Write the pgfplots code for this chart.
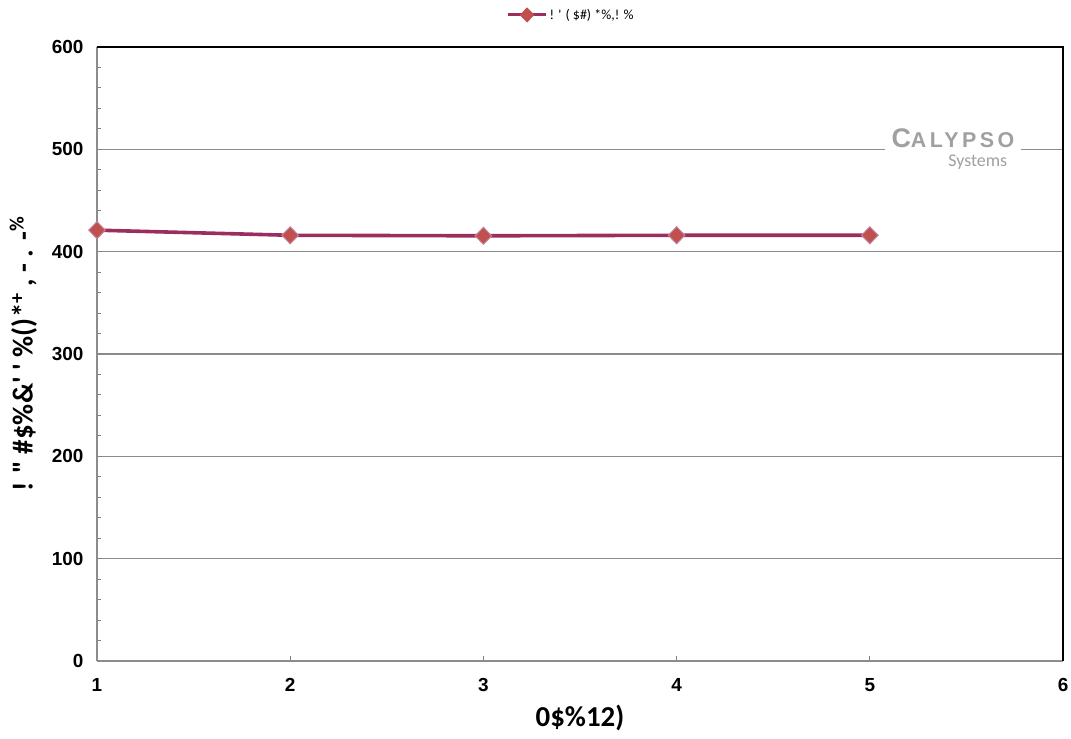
\documentclass[border=0pt]{standalone}
\usepackage{pgfplots}
\pgfplotsset{compat=1.18}
\usepackage{fontspec}
\setmainfont{Liberation Sans}
\newfontfamily\carl{Carlito}
\newfontfamily\logofont[LetterSpace=16]{Liberation Sans}
\definecolor{linec}{HTML}{9B2D5F}
\definecolor{markc}{HTML}{C0504D}
\definecolor{gridc}{HTML}{8C8C8C}
\definecolor{axisc}{HTML}{808080}
\definecolor{logoc}{HTML}{A0A0A0}
\begin{document}
\begin{tikzpicture}[x=1bp,y=1bp]
\useasboundingbox (-97,-78) rectangle (974,661);
\begin{axis}[
  at={(0,0)}, anchor=south west,
  scale only axis, width=966bp, height=614bp,
  xmin=1, xmax=6, ymin=0, ymax=600,
  xtick={1,2,3,4,5,6},
  ytick={0,100,200,300,400,500,600},
  minor y tick num=4,
  ymajorgrids, major grid style={gridc, line width=1.3pt},
  axis line style={draw=none},
  tick style={axisc, line width=1pt},
  major tick length=5bp, minor tick length=4bp,
  tick align=inside,
  xtick pos=bottom, ytick pos=left,
  /pgf/number format/assume math mode=true,
  ticklabel style={font=\fontsize{19}{22}\selectfont\bfseries},
  xticklabel style={yshift=-14bp},
  yticklabel style={xshift=-10bp},
  xlabel={\carl\bfseries 0\$\%12)},
  ylabel={\carl\bfseries ! " \#\$\%\&' ' \%()*\textsuperscript{+} , - . -\textsuperscript{\%}},
  label style={font=\fontsize{29}{33}\selectfont},
  xlabel style={yshift=-6bp},
  ylabel style={yshift=8bp},
  legend style={at={(0.5,1)}, anchor=south, xshift=-9bp, yshift=24bp, draw=none, fill=none,
    font=\carl\fontsize{14}{16}\selectfont, inner sep=0pt},
  legend image code/.code={
    \draw[linec, line width=3bp] (0bp,0bp) -- (38bp,0bp);
    \draw[mark=diamond*, mark size=5bp, mark options={fill=markc, draw=markc, xscale=1.3}] plot coordinates {(19bp,0bp)};
  },
  legend cell align=left,
  clip=false,
]
\draw[gridc, line width=1.3pt] (axis cs:1,0) -- (axis cs:1,600);
\draw[gridc, line width=1.3pt] (axis cs:1,0) -- (axis cs:6,0);
\draw[black, line width=1.5pt] (axis cs:1,600) -- (axis cs:6,600) -- (axis cs:6,0);
\addplot[linec, line width=3.6bp, mark=diamond*, mark size=8.5bp,
  mark options={fill=markc, draw=linec!60!white, line width=1pt, xscale=1.3}]
  coordinates {(1,421) (2,416) (3,415.5) (4,416) (5,416)};
\addlegendentry{! ' ( \$\#) *\%,! \%}
\node[fill=white, inner xsep=7bp, inner ysep=3bp, text=logoc, anchor=center, align=right,
  font=\fontsize{21}{19}\selectfont]
  at (axis cs:5.43,500) {{\logofont\bfseries\fontsize{27}{19}\selectfont C\fontsize{21.5}{19}\selectfont ALYPSO}\\
  {\carl\fontsize{18}{19}\selectfont Systems}\hspace*{7bp}};
\end{axis}
\end{tikzpicture}
\end{document}
